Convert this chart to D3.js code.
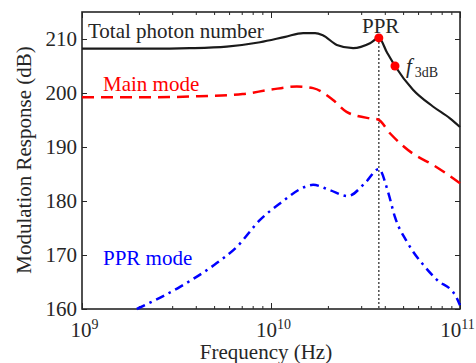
<!DOCTYPE html>
<html>
<head>
<meta charset="utf-8">
<script src="https://cdn.jsdelivr.net/npm/d3@7"></script>
<style>
body { margin: 0; background: #fff; }
</style>
</head>
<body>
<div id="chart"></div>
<script>
// data (frequency in Hz, response in dB)
const totalFreq = [1e9, 2.29e9, 3.72e9, 5.83e9, 8.75e9, 1.19e10, 1.48e10, 1.71e10, 1.88e10, 2.23e10, 2.72e10, 3.34e10, 3.72e10, 4.11e10, 4.53e10, 5.64e10, 7.19e10, 8.85e10, 1e11];
const totalDb = [208.2, 208.2, 208.3, 208.6, 209.4, 210.4, 211.1, 211.1, 210.7, 208.9, 208.3, 209.2, 210.2, 207.5, 205.0, 200.6, 197.5, 195.3, 193.7];

const mainFreq = [1e9, 2.29e9, 4.17e9, 7.08e9, 9.89e9, 1.37e10, 1.67e10, 2.13e10, 2.51e10, 3.34e10, 3.68e10, 4.27e10, 5.62e10, 7.19e10, 1e11];
const mainDb = [199.2, 199.2, 199.4, 199.8, 200.6, 201.2, 200.9, 198.7, 196.5, 195.3, 195.1, 192.5, 188.8, 186.7, 183.3];

const pprFreq = [1.95e9, 3.3e9, 5.16e9, 6.59e9, 8.75e9, 1.12e10, 1.51e10, 1.67e10, 2.05e10, 2.55e10, 3.14e10, 3.72e10, 4.16e10, 4.53e10, 5.25e10, 6.53e10, 7.55e10, 9.42e10, 1e11];
const pprDb = [160, 164.1, 168.5, 171.5, 176.5, 179.6, 182.6, 183.0, 182.0, 180.9, 183.3, 185.9, 181.7, 177.0, 172.4, 167.8, 165.4, 162.6, 160.7];

const markerFreq = [3.72e10, 4.53e10];
const markerDb = [210.2, 205.0];

const yTicks = [160, 170, 180, 190, 200, 210];
const xMajor = [1e9, 1e10, 1e11];

// layout
const width = 476;
const height = 363;
const plotLeft = 82, plotRight = 460, plotTop = 12, plotBottom = 309;
const axisColor = '#262626';
const serif = '"Liberation Serif", "Times New Roman", Times, "Nimbus Roman", "DejaVu Serif", serif';

const svg = d3.select('#chart').append('svg')
    .attr('width', width).attr('height', height)
    .style('font-family', serif);

const x = d3.scaleLog().domain([1e9, 1e11]).range([plotLeft, plotRight]);
const y = d3.scaleLinear().domain([160, 215]).range([plotBottom, plotTop]);

// minor ticks 2..9 per decade
const xMinor = [];
[1e9, 1e10].forEach(d => { for (let k = 2; k <= 9; k++) xMinor.push(d * k); });

function styleAxis(g) {
    g.attr('font-family', null);
    g.select('.domain').remove();
    g.selectAll('line').attr('stroke', axisColor).attr('stroke-width', 1);
    g.selectAll('text').attr('fill', axisColor).attr('font-size', 21)
        .style('font-family', serif);
}

// bottom major with labels (10 + superscript exponent)
const gBottom = svg.append('g')
    .attr('transform', `translate(0,${plotBottom})`)
    .call(d3.axisBottom(x).tickValues(xMajor).tickSize(-6).tickPadding(13).tickFormat(() => '10'))
    .call(styleAxis);
gBottom.selectAll('.tick text')
    .attr('dx', (d, i) => i === xMajor.length - 1 ? -3 : 2)
    .each(function (d) {
        d3.select(this).append('tspan')
            .attr('dy', '-0.55em')
            .attr('font-size', 14)
            .text(Math.round(Math.log10(d)));
    });
svg.append('g')
    .attr('transform', `translate(0,${plotBottom})`)
    .call(d3.axisBottom(x).tickValues(xMinor).tickSize(-3).tickFormat(''))
    .call(styleAxis);
// top ticks
svg.append('g')
    .attr('transform', `translate(0,${plotTop})`)
    .call(d3.axisTop(x).tickValues(xMajor).tickSize(-6).tickFormat(''))
    .call(styleAxis);
svg.append('g')
    .attr('transform', `translate(0,${plotTop})`)
    .call(d3.axisTop(x).tickValues(xMinor).tickSize(-3).tickFormat(''))
    .call(styleAxis);

// left & right
svg.append('g')
    .attr('transform', `translate(${plotLeft},0)`)
    .call(d3.axisLeft(y).tickValues(yTicks).tickSize(-5).tickPadding(5))
    .call(styleAxis);
svg.append('g')
    .attr('transform', `translate(${plotRight},0)`)
    .call(d3.axisRight(y).tickValues(yTicks).tickSize(-5).tickFormat(''))
    .call(styleAxis);

// box
svg.append('rect')
    .attr('x', plotLeft).attr('y', plotTop)
    .attr('width', plotRight - plotLeft).attr('height', plotBottom - plotTop)
    .attr('fill', 'none').attr('stroke', axisColor).attr('stroke-width', 1.6);

// vertical dotted line at PPR
svg.append('line')
    .attr('x1', x(markerFreq[0])).attr('x2', x(markerFreq[0]))
    .attr('y1', y(markerDb[0])).attr('y2', plotBottom)
    .attr('stroke', '#333').attr('stroke-width', 1.3)
    .attr('stroke-dasharray', '2,2');

const line = d3.line()
    .x(d => x(d[0]))
    .y(d => y(d[1]))
    .curve(d3.curveMonotoneX);

svg.append('path')
    .datum(totalFreq.map((f, i) => [f, totalDb[i]]))
    .attr('d', line)
    .attr('fill', 'none').attr('stroke', '#1a1a1a').attr('stroke-width', 2.2);

svg.append('path')
    .datum(mainFreq.map((f, i) => [f, mainDb[i]]))
    .attr('d', line)
    .attr('fill', 'none').attr('stroke', '#ff0000').attr('stroke-width', 2.5)
    .attr('stroke-dasharray', '12,7');

svg.append('path')
    .datum(pprFreq.map((f, i) => [f, pprDb[i]]))
    .attr('d', line)
    .attr('fill', 'none').attr('stroke', '#0000ff').attr('stroke-width', 2.5)
    .attr('stroke-dasharray', '9,5,2.5,5');

// markers
svg.selectAll('.marker')
    .data(markerFreq)
    .enter().append('circle')
    .attr('class', 'marker')
    .attr('cx', d => x(d))
    .attr('cy', (d, i) => y(markerDb[i]))
    .attr('r', 4.5)
    .attr('fill', '#ff0000');

// annotations
svg.append('text').text('Total photon number')
    .attr('x', 88).attr('y', 38).attr('font-size', 21).attr('fill', axisColor);
svg.append('text').text('Main mode')
    .attr('x', 103).attr('y', 91).attr('font-size', 21).attr('fill', '#ff0000');
svg.append('text').text('PPR mode')
    .attr('x', 103).attr('y', 265).attr('font-size', 21).attr('fill', '#0000ff');
svg.append('text').text('PPR')
    .attr('x', 362).attr('y', 33).attr('font-size', 21).attr('fill', axisColor);
const f3 = svg.append('text')
    .attr('x', 406).attr('y', 73).attr('font-size', 21).attr('fill', axisColor);
f3.append('tspan').text('f').attr('font-style', 'italic');
f3.append('tspan').text('3dB').attr('font-size', 14).attr('dx', 3).attr('dy', 4);

// axis titles
svg.append('text').text('Frequency (Hz)')
    .attr('x', 266).attr('y', 359).attr('text-anchor', 'middle')
    .attr('font-size', 21).attr('fill', axisColor);
svg.append('text').text('Modulation Response (dB)')
    .attr('transform', 'rotate(-90)')
    .attr('x', -160).attr('y', 31).attr('text-anchor', 'middle')
    .attr('font-size', 21).attr('fill', axisColor);
</script>
</body>
</html>
